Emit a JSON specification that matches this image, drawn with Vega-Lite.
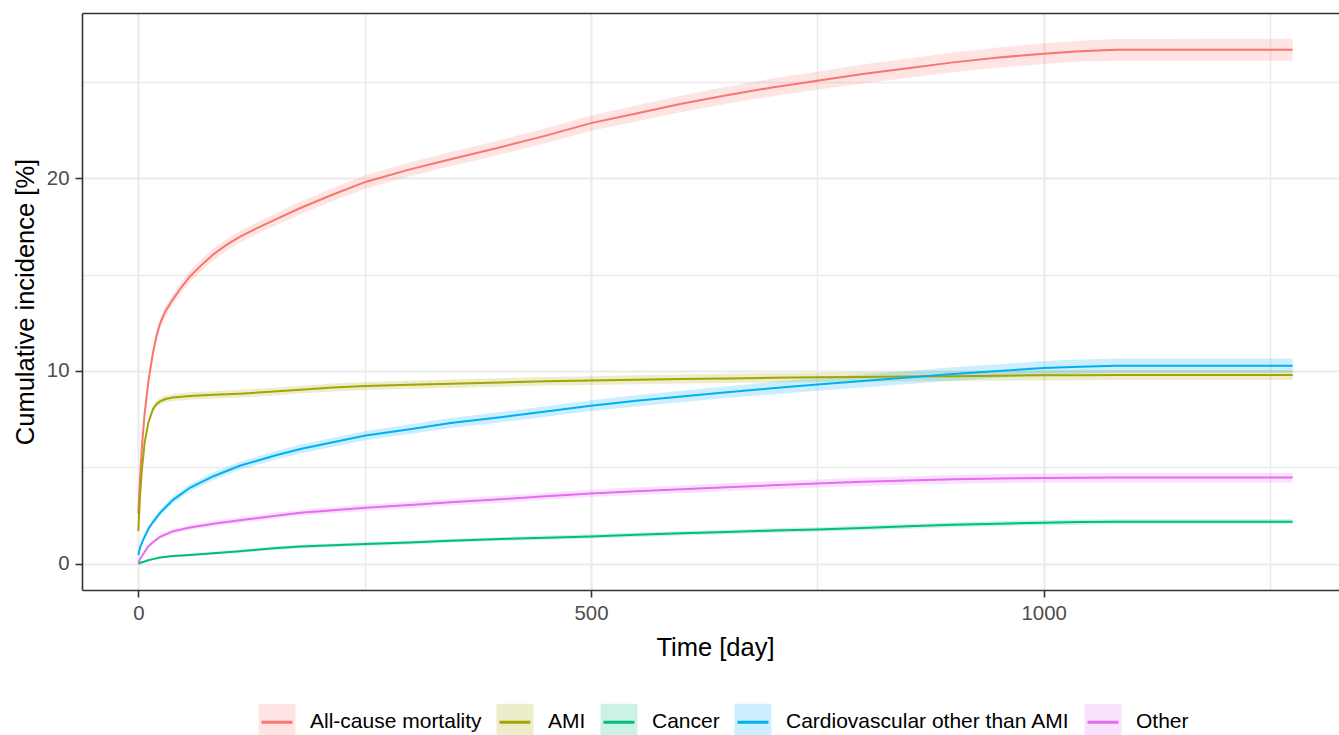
{
  "$schema": "https://vega.github.io/schema/vega-lite/v6.json",
  "width": 1257,
  "height": 577,
  "autosize": {"type": "none"},
  "padding": {"left": 82, "top": 13, "right": 0, "bottom": 145},
  "background": "white",
  "config": {"view": {"stroke": null}, "font": "Liberation Sans"},
  "datasets": {
    "ci": [
      {"cause":"All-cause mortality","time":0,"est":2.6,"lower":2.5,"upper":2.7},
      {"cause":"All-cause mortality","time":2,"est":4.5,"lower":4.35,"upper":4.65},
      {"cause":"All-cause mortality","time":4,"est":6.1,"lower":5.92,"upper":6.28},
      {"cause":"All-cause mortality","time":7,"est":7.8,"lower":7.6,"upper":8.0},
      {"cause":"All-cause mortality","time":11,"est":9.4,"lower":9.18,"upper":9.62},
      {"cause":"All-cause mortality","time":16,"est":10.9,"lower":10.66,"upper":11.14},
      {"cause":"All-cause mortality","time":20,"est":11.8,"lower":11.55,"upper":12.05},
      {"cause":"All-cause mortality","time":24,"est":12.45,"lower":12.19,"upper":12.71},
      {"cause":"All-cause mortality","time":30,"est":13.1,"lower":12.83,"upper":13.37},
      {"cause":"All-cause mortality","time":38,"est":13.7,"lower":13.42,"upper":13.98},
      {"cause":"All-cause mortality","time":47,"est":14.3,"lower":14.01,"upper":14.59},
      {"cause":"All-cause mortality","time":57,"est":14.9,"lower":14.61,"upper":15.19},
      {"cause":"All-cause mortality","time":70,"est":15.5,"lower":15.2,"upper":15.8},
      {"cause":"All-cause mortality","time":83,"est":16.05,"lower":15.75,"upper":16.35},
      {"cause":"All-cause mortality","time":97,"est":16.52,"lower":16.22,"upper":16.82},
      {"cause":"All-cause mortality","time":112,"est":16.95,"lower":16.64,"upper":17.26},
      {"cause":"All-cause mortality","time":130,"est":17.38,"lower":17.07,"upper":17.69},
      {"cause":"All-cause mortality","time":150,"est":17.82,"lower":17.5,"upper":18.14},
      {"cause":"All-cause mortality","time":179,"est":18.45,"lower":18.12,"upper":18.78},
      {"cause":"All-cause mortality","time":215,"est":19.15,"lower":18.81,"upper":19.49},
      {"cause":"All-cause mortality","time":251,"est":19.8,"lower":19.45,"upper":20.15},
      {"cause":"All-cause mortality","time":300,"est":20.45,"lower":20.09,"upper":20.81},
      {"cause":"All-cause mortality","time":345,"est":20.98,"lower":20.61,"upper":21.35},
      {"cause":"All-cause mortality","time":400,"est":21.6,"lower":21.22,"upper":21.98},
      {"cause":"All-cause mortality","time":450,"est":22.2,"lower":21.81,"upper":22.59},
      {"cause":"All-cause mortality","time":500,"est":22.85,"lower":22.45,"upper":23.25},
      {"cause":"All-cause mortality","time":550,"est":23.35,"lower":22.94,"upper":23.76},
      {"cause":"All-cause mortality","time":600,"est":23.85,"lower":23.42,"upper":24.28},
      {"cause":"All-cause mortality","time":650,"est":24.3,"lower":23.86,"upper":24.74},
      {"cause":"All-cause mortality","time":700,"est":24.7,"lower":24.24,"upper":25.16},
      {"cause":"All-cause mortality","time":750,"est":25.05,"lower":24.58,"upper":25.52},
      {"cause":"All-cause mortality","time":800,"est":25.4,"lower":24.91,"upper":25.89},
      {"cause":"All-cause mortality","time":850,"est":25.7,"lower":25.2,"upper":26.2},
      {"cause":"All-cause mortality","time":900,"est":26.0,"lower":25.49,"upper":26.51},
      {"cause":"All-cause mortality","time":950,"est":26.25,"lower":25.73,"upper":26.77},
      {"cause":"All-cause mortality","time":1000,"est":26.45,"lower":25.92,"upper":26.98},
      {"cause":"All-cause mortality","time":1040,"est":26.58,"lower":26.04,"upper":27.12},
      {"cause":"All-cause mortality","time":1080,"est":26.65,"lower":26.09,"upper":27.21},
      {"cause":"All-cause mortality","time":1275,"est":26.65,"lower":26.08,"upper":27.22},

      {"cause":"AMI","time":0,"est":1.7,"lower":1.62,"upper":1.78},
      {"cause":"AMI","time":2,"est":3.6,"lower":3.5,"upper":3.7},
      {"cause":"AMI","time":4,"est":4.9,"lower":4.78,"upper":5.02},
      {"cause":"AMI","time":7,"est":6.3,"lower":6.16,"upper":6.44},
      {"cause":"AMI","time":11,"est":7.3,"lower":7.14,"upper":7.46},
      {"cause":"AMI","time":16,"est":8.0,"lower":7.83,"upper":8.17},
      {"cause":"AMI","time":20,"est":8.28,"lower":8.11,"upper":8.45},
      {"cause":"AMI","time":24,"est":8.42,"lower":8.24,"upper":8.6},
      {"cause":"AMI","time":30,"est":8.54,"lower":8.36,"upper":8.72},
      {"cause":"AMI","time":38,"est":8.62,"lower":8.44,"upper":8.8},
      {"cause":"AMI","time":57,"est":8.7,"lower":8.51,"upper":8.89},
      {"cause":"AMI","time":83,"est":8.76,"lower":8.57,"upper":8.95},
      {"cause":"AMI","time":112,"est":8.82,"lower":8.62,"upper":9.02},
      {"cause":"AMI","time":150,"est":8.93,"lower":8.73,"upper":9.13},
      {"cause":"AMI","time":179,"est":9.03,"lower":8.83,"upper":9.23},
      {"cause":"AMI","time":215,"est":9.14,"lower":8.93,"upper":9.35},
      {"cause":"AMI","time":251,"est":9.22,"lower":9.01,"upper":9.43},
      {"cause":"AMI","time":300,"est":9.28,"lower":9.07,"upper":9.49},
      {"cause":"AMI","time":345,"est":9.33,"lower":9.11,"upper":9.55},
      {"cause":"AMI","time":400,"est":9.4,"lower":9.18,"upper":9.62},
      {"cause":"AMI","time":450,"est":9.46,"lower":9.24,"upper":9.68},
      {"cause":"AMI","time":500,"est":9.5,"lower":9.27,"upper":9.73},
      {"cause":"AMI","time":550,"est":9.54,"lower":9.31,"upper":9.77},
      {"cause":"AMI","time":600,"est":9.58,"lower":9.35,"upper":9.81},
      {"cause":"AMI","time":650,"est":9.61,"lower":9.37,"upper":9.85},
      {"cause":"AMI","time":700,"est":9.64,"lower":9.4,"upper":9.88},
      {"cause":"AMI","time":750,"est":9.67,"lower":9.43,"upper":9.91},
      {"cause":"AMI","time":800,"est":9.69,"lower":9.44,"upper":9.94},
      {"cause":"AMI","time":850,"est":9.71,"lower":9.46,"upper":9.96},
      {"cause":"AMI","time":900,"est":9.73,"lower":9.48,"upper":9.98},
      {"cause":"AMI","time":950,"est":9.75,"lower":9.49,"upper":10.01},
      {"cause":"AMI","time":1000,"est":9.77,"lower":9.51,"upper":10.03},
      {"cause":"AMI","time":1040,"est":9.78,"lower":9.52,"upper":10.04},
      {"cause":"AMI","time":1080,"est":9.79,"lower":9.53,"upper":10.05},
      {"cause":"AMI","time":1275,"est":9.79,"lower":9.53,"upper":10.05},

      {"cause":"Cancer","time":0,"est":0.0,"lower":0.0,"upper":0.01},
      {"cause":"Cancer","time":2,"est":0.04,"lower":0.02,"upper":0.06},
      {"cause":"Cancer","time":4,"est":0.08,"lower":0.05,"upper":0.11},
      {"cause":"Cancer","time":7,"est":0.12,"lower":0.08,"upper":0.16},
      {"cause":"Cancer","time":11,"est":0.18,"lower":0.14,"upper":0.22},
      {"cause":"Cancer","time":16,"est":0.24,"lower":0.19,"upper":0.29},
      {"cause":"Cancer","time":24,"est":0.32,"lower":0.26,"upper":0.38},
      {"cause":"Cancer","time":38,"est":0.4,"lower":0.34,"upper":0.46},
      {"cause":"Cancer","time":57,"est":0.46,"lower":0.39,"upper":0.53},
      {"cause":"Cancer","time":83,"est":0.55,"lower":0.48,"upper":0.62},
      {"cause":"Cancer","time":112,"est":0.65,"lower":0.57,"upper":0.73},
      {"cause":"Cancer","time":150,"est":0.8,"lower":0.71,"upper":0.89},
      {"cause":"Cancer","time":179,"est":0.9,"lower":0.81,"upper":0.99},
      {"cause":"Cancer","time":215,"est":0.96,"lower":0.87,"upper":1.05},
      {"cause":"Cancer","time":251,"est":1.02,"lower":0.92,"upper":1.12},
      {"cause":"Cancer","time":300,"est":1.1,"lower":1.0,"upper":1.2},
      {"cause":"Cancer","time":345,"est":1.2,"lower":1.1,"upper":1.3},
      {"cause":"Cancer","time":400,"est":1.28,"lower":1.18,"upper":1.38},
      {"cause":"Cancer","time":450,"est":1.35,"lower":1.24,"upper":1.46},
      {"cause":"Cancer","time":500,"est":1.42,"lower":1.31,"upper":1.53},
      {"cause":"Cancer","time":550,"est":1.5,"lower":1.39,"upper":1.61},
      {"cause":"Cancer","time":600,"est":1.58,"lower":1.47,"upper":1.69},
      {"cause":"Cancer","time":650,"est":1.65,"lower":1.53,"upper":1.77},
      {"cause":"Cancer","time":700,"est":1.72,"lower":1.6,"upper":1.84},
      {"cause":"Cancer","time":750,"est":1.78,"lower":1.66,"upper":1.9},
      {"cause":"Cancer","time":800,"est":1.86,"lower":1.74,"upper":1.98},
      {"cause":"Cancer","time":850,"est":1.94,"lower":1.82,"upper":2.06},
      {"cause":"Cancer","time":900,"est":2.02,"lower":1.89,"upper":2.15},
      {"cause":"Cancer","time":950,"est":2.08,"lower":1.95,"upper":2.21},
      {"cause":"Cancer","time":1000,"est":2.13,"lower":2.0,"upper":2.26},
      {"cause":"Cancer","time":1040,"est":2.16,"lower":2.03,"upper":2.29},
      {"cause":"Cancer","time":1080,"est":2.18,"lower":2.05,"upper":2.31},
      {"cause":"Cancer","time":1275,"est":2.18,"lower":2.05,"upper":2.31},

      {"cause":"Cardiovascular other than AMI","time":0,"est":0.45,"lower":0.37,"upper":0.53},
      {"cause":"Cardiovascular other than AMI","time":2,"est":0.85,"lower":0.76,"upper":0.94},
      {"cause":"Cardiovascular other than AMI","time":4,"est":1.1,"lower":1.0,"upper":1.2},
      {"cause":"Cardiovascular other than AMI","time":7,"est":1.4,"lower":1.28,"upper":1.52},
      {"cause":"Cardiovascular other than AMI","time":11,"est":1.8,"lower":1.67,"upper":1.93},
      {"cause":"Cardiovascular other than AMI","time":16,"est":2.15,"lower":2.0,"upper":2.3},
      {"cause":"Cardiovascular other than AMI","time":24,"est":2.64,"lower":2.48,"upper":2.8},
      {"cause":"Cardiovascular other than AMI","time":38,"est":3.3,"lower":3.12,"upper":3.48},
      {"cause":"Cardiovascular other than AMI","time":57,"est":3.94,"lower":3.75,"upper":4.13},
      {"cause":"Cardiovascular other than AMI","time":83,"est":4.54,"lower":4.34,"upper":4.74},
      {"cause":"Cardiovascular other than AMI","time":112,"est":5.08,"lower":4.87,"upper":5.29},
      {"cause":"Cardiovascular other than AMI","time":150,"est":5.6,"lower":5.38,"upper":5.82},
      {"cause":"Cardiovascular other than AMI","time":179,"est":5.95,"lower":5.72,"upper":6.18},
      {"cause":"Cardiovascular other than AMI","time":215,"est":6.3,"lower":6.07,"upper":6.53},
      {"cause":"Cardiovascular other than AMI","time":251,"est":6.65,"lower":6.41,"upper":6.89},
      {"cause":"Cardiovascular other than AMI","time":300,"est":6.98,"lower":6.73,"upper":7.23},
      {"cause":"Cardiovascular other than AMI","time":345,"est":7.3,"lower":7.04,"upper":7.56},
      {"cause":"Cardiovascular other than AMI","time":400,"est":7.6,"lower":7.33,"upper":7.87},
      {"cause":"Cardiovascular other than AMI","time":450,"est":7.9,"lower":7.63,"upper":8.17},
      {"cause":"Cardiovascular other than AMI","time":500,"est":8.2,"lower":7.92,"upper":8.48},
      {"cause":"Cardiovascular other than AMI","time":550,"est":8.45,"lower":8.16,"upper":8.74},
      {"cause":"Cardiovascular other than AMI","time":600,"est":8.67,"lower":8.37,"upper":8.97},
      {"cause":"Cardiovascular other than AMI","time":650,"est":8.9,"lower":8.59,"upper":9.21},
      {"cause":"Cardiovascular other than AMI","time":700,"est":9.1,"lower":8.78,"upper":9.42},
      {"cause":"Cardiovascular other than AMI","time":750,"est":9.3,"lower":8.97,"upper":9.63},
      {"cause":"Cardiovascular other than AMI","time":800,"est":9.48,"lower":9.14,"upper":9.82},
      {"cause":"Cardiovascular other than AMI","time":850,"est":9.66,"lower":9.32,"upper":10.0},
      {"cause":"Cardiovascular other than AMI","time":900,"est":9.84,"lower":9.49,"upper":10.19},
      {"cause":"Cardiovascular other than AMI","time":950,"est":10.0,"lower":9.65,"upper":10.35},
      {"cause":"Cardiovascular other than AMI","time":1000,"est":10.15,"lower":9.79,"upper":10.51},
      {"cause":"Cardiovascular other than AMI","time":1040,"est":10.22,"lower":9.85,"upper":10.59},
      {"cause":"Cardiovascular other than AMI","time":1080,"est":10.27,"lower":9.89,"upper":10.65},
      {"cause":"Cardiovascular other than AMI","time":1275,"est":10.27,"lower":9.89,"upper":10.65},

      {"cause":"Other","time":0,"est":0.05,"lower":0.02,"upper":0.08},
      {"cause":"Other","time":2,"est":0.25,"lower":0.2,"upper":0.3},
      {"cause":"Other","time":4,"est":0.4,"lower":0.34,"upper":0.46},
      {"cause":"Other","time":7,"est":0.62,"lower":0.54,"upper":0.7},
      {"cause":"Other","time":11,"est":0.9,"lower":0.81,"upper":0.99},
      {"cause":"Other","time":16,"est":1.12,"lower":1.02,"upper":1.22},
      {"cause":"Other","time":24,"est":1.4,"lower":1.29,"upper":1.51},
      {"cause":"Other","time":38,"est":1.68,"lower":1.56,"upper":1.8},
      {"cause":"Other","time":57,"est":1.88,"lower":1.75,"upper":2.01},
      {"cause":"Other","time":83,"est":2.08,"lower":1.94,"upper":2.22},
      {"cause":"Other","time":112,"est":2.26,"lower":2.12,"upper":2.4},
      {"cause":"Other","time":150,"est":2.48,"lower":2.33,"upper":2.63},
      {"cause":"Other","time":179,"est":2.64,"lower":2.49,"upper":2.79},
      {"cause":"Other","time":215,"est":2.78,"lower":2.62,"upper":2.94},
      {"cause":"Other","time":251,"est":2.9,"lower":2.74,"upper":3.06},
      {"cause":"Other","time":300,"est":3.05,"lower":2.88,"upper":3.22},
      {"cause":"Other","time":345,"est":3.19,"lower":3.02,"upper":3.36},
      {"cause":"Other","time":400,"est":3.35,"lower":3.17,"upper":3.53},
      {"cause":"Other","time":450,"est":3.5,"lower":3.32,"upper":3.68},
      {"cause":"Other","time":500,"est":3.65,"lower":3.46,"upper":3.84},
      {"cause":"Other","time":550,"est":3.76,"lower":3.57,"upper":3.95},
      {"cause":"Other","time":600,"est":3.86,"lower":3.66,"upper":4.06},
      {"cause":"Other","time":650,"est":3.97,"lower":3.77,"upper":4.17},
      {"cause":"Other","time":700,"est":4.07,"lower":3.86,"upper":4.28},
      {"cause":"Other","time":750,"est":4.16,"lower":3.95,"upper":4.37},
      {"cause":"Other","time":800,"est":4.25,"lower":4.03,"upper":4.47},
      {"cause":"Other","time":850,"est":4.32,"lower":4.1,"upper":4.54},
      {"cause":"Other","time":900,"est":4.38,"lower":4.15,"upper":4.61},
      {"cause":"Other","time":950,"est":4.42,"lower":4.19,"upper":4.65},
      {"cause":"Other","time":1000,"est":4.45,"lower":4.21,"upper":4.69},
      {"cause":"Other","time":1040,"est":4.46,"lower":4.22,"upper":4.7},
      {"cause":"Other","time":1080,"est":4.47,"lower":4.22,"upper":4.72},
      {"cause":"Other","time":1275,"est":4.47,"lower":4.22,"upper":4.72}
    ]
  },
  "data": {"name": "ci"},
  "layer": [
    {
      "mark": {"type": "area"},
      "encoding": {
        "x": {
          "field": "time", "type": "quantitative",
          "scale": {"domain": [-62.2, 1326.2], "nice": false, "zero": false},
          "axis": {
            "orient": "bottom",
            "values": [0, 250, 500, 750, 1000, 1250],
            "format": "d",
            "labelExpr": "datum.value % 500 === 0 ? datum.label : ''",
            "grid": true,
            "gridColor": "#EBEBEB",
            "gridWidth": {"condition": {"test": "datum.value % 500 === 0", "value": 2.2}, "value": 1.5},
            "tickOpacity": {"condition": {"test": "datum.value % 500 === 0", "value": 1}, "value": 0},
            "tickSize": 7, "tickWidth": 1.6, "tickColor": "#333333",
            "domainColor": "#333333", "domainWidth": 1.6,
            "labelFontSize": 20.4, "labelColor": "#4D4D4D", "labelPadding": 6,
            "labelFlush": false, "labelOverlap": false,
            "title": "Time [day]",
            "titleFontSize": 25.5, "titleFontWeight": "normal", "titleColor": "black",
            "titleX": 633, "titleY": 65, "titleBaseline": "alphabetic", "titleAlign": "center"
          }
        },
        "y": {
          "field": "lower", "type": "quantitative",
          "scale": {"domain": [-1.36, 28.56], "nice": false, "zero": false},
          "axis": {
            "orient": "left",
            "values": [0, 5, 10, 15, 20, 25],
            "labelExpr": "datum.value % 10 === 0 ? datum.label : ''",
            "grid": true,
            "gridColor": "#EBEBEB",
            "gridWidth": {"condition": {"test": "datum.value % 10 === 0", "value": 2.2}, "value": 1.5},
            "tickOpacity": {"condition": {"test": "datum.value % 10 === 0", "value": 1}, "value": 0},
            "tickSize": 7, "tickWidth": 1.6, "tickColor": "#333333",
            "domainColor": "#333333", "domainWidth": 1.6,
            "labelFontSize": 20.4, "labelColor": "#4D4D4D", "labelPadding": 6,
            "labelFlush": false, "labelOverlap": false,
            "title": "Cumulative incidence [%]",
            "titleFontSize": 25.5, "titleFontWeight": "normal", "titleColor": "black",
            "titleX": -49, "titleY": 288.5, "titleBaseline": "alphabetic", "titleAlign": "center", "titleAngle": -90
          }
        },
        "y2": {"field": "upper"},
        "fill": {
          "field": "cause", "type": "nominal",
          "scale": {
            "domain": ["All-cause mortality", "AMI", "Cancer", "Cardiovascular other than AMI", "Other"],
            "range": ["rgba(248,118,109,0.2)", "rgba(163,165,0,0.2)", "rgba(0,191,125,0.2)", "rgba(0,176,246,0.2)", "rgba(231,107,243,0.2)"]
          },
          "legend": {
            "title": null, "orient": "none", "legendX": 175, "legendY": 689,
            "direction": "horizontal",
            "symbolType": "M-0.84,0H1V1H-1V-1H1V0Z", "symbolSize": 1369,
            "symbolStrokeWidth": 3, "symbolDash": [31, 2000], "symbolOpacity": 1,
            "labelFontSize": 21, "labelColor": "black", "labelOffset": 13,
            "labelLimit": 500, "columnPadding": 8, "rowPadding": 0
          }
        }
      }
    },
    {
      "mark": {"type": "line", "strokeWidth": 2},
      "encoding": {
        "x": {
          "field": "time", "type": "quantitative",
          "axis": {"orient": "top", "domainColor": "#333333", "domainWidth": 1.6, "ticks": false, "labels": false, "grid": false, "title": null}
        },
        "y": {
          "field": "est", "type": "quantitative",
          "axis": {
            "orient": "left",
            "values": [0, 5, 10, 15, 20, 25],
            "labelExpr": "datum.value % 10 === 0 ? datum.label : ''",
            "grid": true,
            "gridColor": "#EBEBEB",
            "gridWidth": {"condition": {"test": "datum.value % 10 === 0", "value": 2.2}, "value": 1.5},
            "tickOpacity": {"condition": {"test": "datum.value % 10 === 0", "value": 1}, "value": 0},
            "tickSize": 7, "tickWidth": 1.6, "tickColor": "#333333",
            "domainColor": "#333333", "domainWidth": 1.6,
            "labelFontSize": 20.4, "labelColor": "#4D4D4D", "labelPadding": 6,
            "labelFlush": false, "labelOverlap": false,
            "title": "Cumulative incidence [%]",
            "titleFontSize": 25.5, "titleFontWeight": "normal", "titleColor": "black",
            "titleX": -49, "titleY": 288.5, "titleBaseline": "alphabetic", "titleAlign": "center", "titleAngle": -90
          }
        },
        "stroke": {
          "field": "cause", "type": "nominal",
          "scale": {
            "domain": ["All-cause mortality", "AMI", "Cancer", "Cardiovascular other than AMI", "Other"],
            "range": ["#F8766D", "#A3A500", "#00BF7D", "#00B0F6", "#E76BF3"]
          },
          "legend": {
            "title": null, "orient": "none", "legendX": 175, "legendY": 689,
            "direction": "horizontal",
            "symbolType": "M-0.84,0H1V1H-1V-1H1V0Z", "symbolSize": 1369,
            "symbolStrokeWidth": 3, "symbolDash": [31, 2000], "symbolOpacity": 1,
            "labelFontSize": 21, "labelColor": "black", "labelOffset": 13,
            "labelLimit": 500, "columnPadding": 8, "rowPadding": 0
          }
        }
      }
    }
  ]
}
